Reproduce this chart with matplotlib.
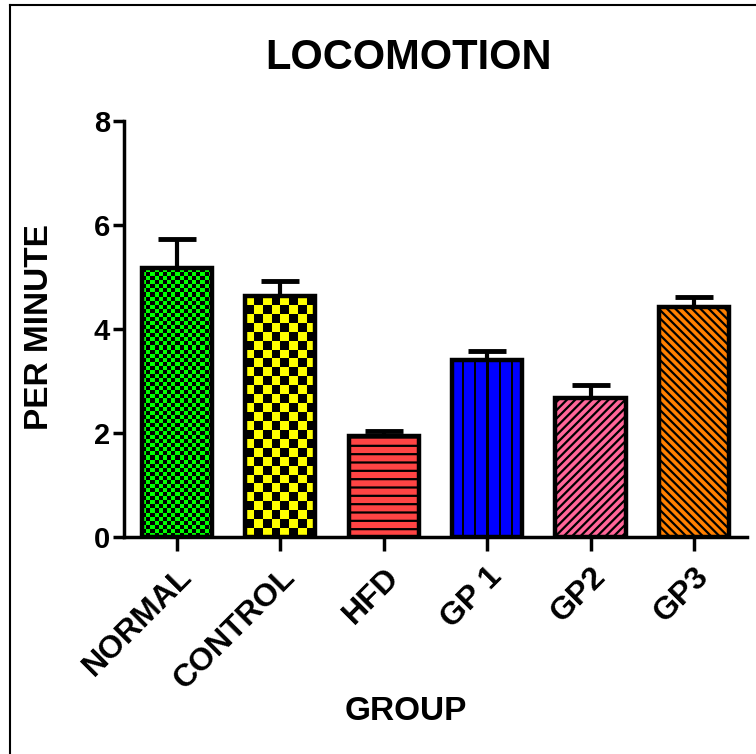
import matplotlib
matplotlib.use("Agg")
import matplotlib.pyplot as plt
import numpy as np
from matplotlib.lines import Line2D

groups = ["NORMAL", "CONTROL", "HFD", "GP 1", "GP2", "GP3"]
means = [5.17, 4.62, 1.94, 3.40, 2.67, 4.42]
sem = [0.55, 0.30, 0.09, 0.17, 0.24, 0.19]
colors = ["#00FF00", "#FFFF00", "#FF4444", "#0000FF", "#FF6699", "#FF8000"]
hatches = [None, None, "--", None, "////", "\\\\\\\\"]

plt.rcParams["font.family"] = ["Liberation Sans", "DejaVu Sans"]
plt.rcParams["font.weight"] = "bold"
plt.rcParams["hatch.linewidth"] = 1.6

fig = plt.figure(figsize=(7.56, 7.54), dpi=100)
ax = fig.add_axes([0.164, 0.288, 0.824, 0.552])

x = np.arange(len(groups))
width = 0.68


def checker_tex(nc, nr):
    return (np.add.outer(np.arange(nr), np.arange(nc)) % 2).astype(float)


def vstripe_tex():
    row = ([0] * 9 + [1] * 2) * 6
    return np.array([row[:-2]], dtype=float)


# texture fills: bar index -> texture array
textures = {0: checker_tex(17, 66), 1: checker_tex(8, 27), 3: vstripe_tex()}

# error bars (upper only)
ax.errorbar(x, means, yerr=[np.zeros(len(sem)), sem], fmt="none", ecolor="black",
            elinewidth=3, capsize=14, capthick=3.5, zorder=1)

fills = ax.bar(x, means, width=width, color=colors, edgecolor="black",
               linewidth=0, zorder=2)
for i, b in enumerate(fills):
    if hatches[i]:
        b.set_hatch(hatches[i])
    if i in textures:
        cmap = matplotlib.colors.ListedColormap([colors[i], "black"])
        im = ax.imshow(textures[i], cmap=cmap, interpolation="nearest", aspect="auto",
                       extent=[x[i] - width / 2, x[i] + width / 2, 0, means[i]],
                       origin="lower", zorder=2.5, vmin=0, vmax=1)
        im.set_clip_path(b)

# outlines on top
ax.bar(x, means, width=width, facecolor="none", edgecolor="black",
       linewidth=3.2, zorder=3)

ax.set_xlim(-0.51, 5.51)
ax.set_ylim(0, 8)
ax.set_yticks([0, 2, 4, 6, 8])
ax.set_xticks(x)
ax.set_xticklabels(groups, rotation=45, ha="right", rotation_mode="anchor",
                   fontsize=23, fontweight="bold")
ax.tick_params(axis="y", labelsize=21, width=2.5, length=8, pad=2)
ax.tick_params(axis="x", width=2.5, length=10, pad=8)
for lab in ax.get_yticklabels():
    lab.set_fontweight("bold")

for s in ["top", "right"]:
    ax.spines[s].set_visible(False)
for s in ["left", "bottom"]:
    ax.spines[s].set_linewidth(2.5)

fig.text(0.541, 0.923, "LOCOMOTION", fontsize=30, fontweight="bold",
         ha="center", va="center")
fig.text(0.052, 0.566, "PER MINUTE", fontsize=24, fontweight="bold",
         ha="center", va="center", rotation=90)
fig.text(0.537, 0.056, "GROUP", fontsize=24, fontweight="bold",
         ha="center", va="center")

# outer frame (left and top edges visible)
fig.add_artist(Line2D([0.013, 0.013], [0, 0.993], transform=fig.transFigure,
                      color="black", linewidth=1.5))
fig.add_artist(Line2D([0.013, 1.0], [0.993, 0.993], transform=fig.transFigure,
                      color="black", linewidth=1.5))

fig.savefig("out.png", dpi=100)
